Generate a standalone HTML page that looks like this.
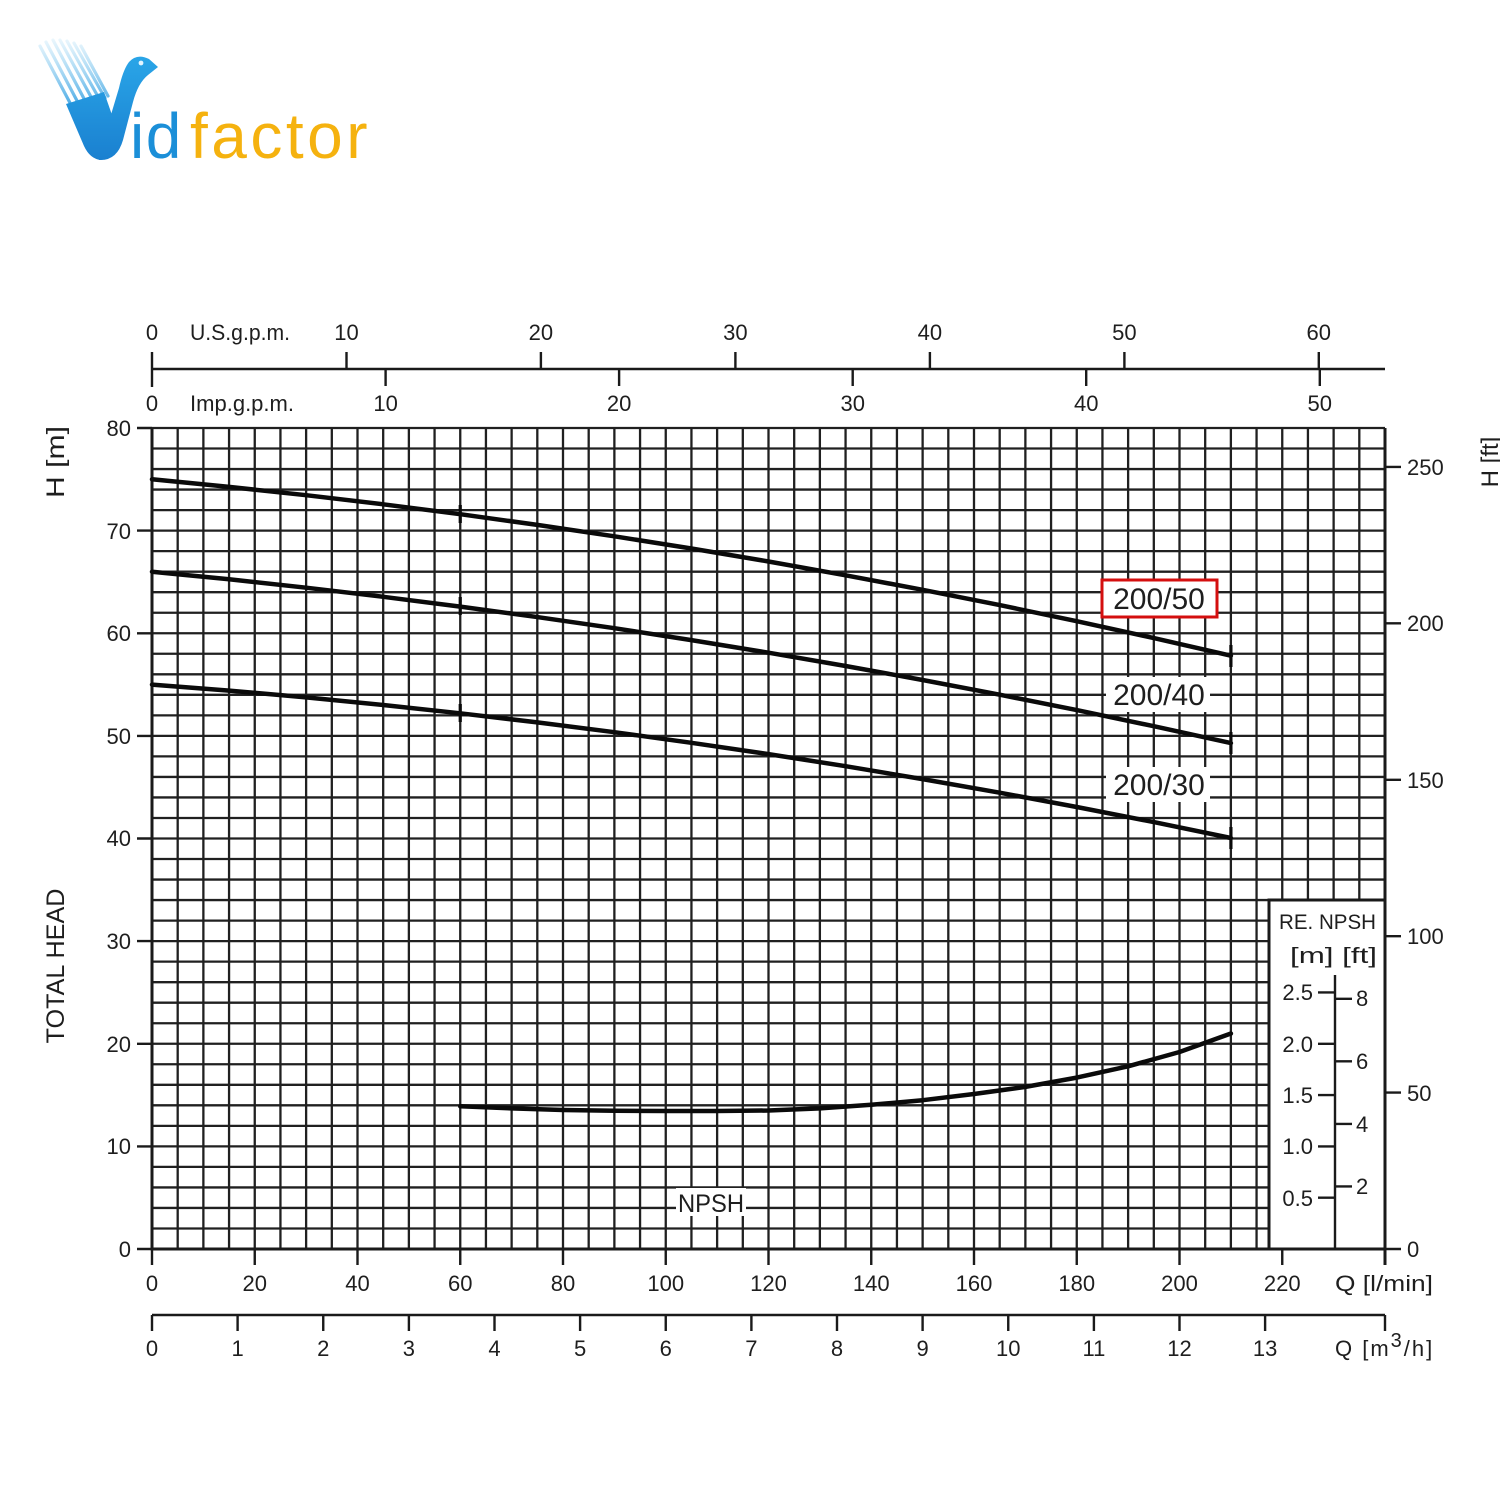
<!DOCTYPE html>
<html><head><meta charset="utf-8"><style>
html,body{margin:0;padding:0;background:#fff;}
svg{display:block;}
text{font-family:"Liberation Sans",sans-serif;fill:#1e1e1e;}
</style></head><body>
<svg width="1500" height="1500" viewBox="0 0 1500 1500" xmlns="http://www.w3.org/2000/svg">
<defs>
<linearGradient id="streak" x1="0" y1="38" x2="0" y2="115" gradientUnits="userSpaceOnUse">
<stop offset="0" stop-color="#7cc8f0" stop-opacity="0.15"/>
<stop offset="1" stop-color="#2b9be0" stop-opacity="1"/>
</linearGradient>
<linearGradient id="vblue" x1="0" y1="55" x2="0" y2="160" gradientUnits="userSpaceOnUse">
<stop offset="0" stop-color="#2aa6e8"/>
<stop offset="1" stop-color="#1a80d0"/>
</linearGradient>
</defs>
<rect width="1500" height="1500" fill="#fff"/>

<!-- Logo -->
<g stroke="url(#streak)" stroke-width="3.2" stroke-linecap="round">
<line x1="40" y1="46" x2="78" y2="118"/>
<line x1="46" y1="42" x2="84" y2="114"/>
<line x1="53" y1="40" x2="90" y2="110"/>
<line x1="60" y1="40" x2="96" y2="106"/>
<line x1="67" y1="41" x2="101" y2="102"/>
<line x1="74" y1="43" x2="105" y2="98"/>
<line x1="81" y1="46" x2="108" y2="96"/>
</g>
<path d="M66 104 L104 92 L120 138 Q118 158 101 160 Q90 159 84 146 Z" fill="url(#vblue)"/>
<path d="M99 160 Q117 161 123 140 L133 102 Q138 83 148 75 L158 67 L149 59 Q137 53 129 62 Q123 70 119 88 L104 138 Z" fill="url(#vblue)"/>
<circle cx="141" cy="63" r="2.4" fill="#e4f5ff"/>
<text x="130" y="158" font-size="64" letter-spacing="1.5" style="fill:#1b8fd8">id</text>
<text x="190" y="158" font-size="64" letter-spacing="3.5" style="fill:#f5b20f">factor</text>

<!-- Grid -->
<g stroke="#202020" stroke-width="2.3" fill="none">
<path d="M152 428v821
m25.6875-821v821m25.6875-821v821m25.6875-821v821m25.6875-821v821m25.6875-821v821m25.6875-821v821m25.6875-821v821m25.6875-821v821
m25.6875-821v821m25.6875-821v821m25.6875-821v821m25.6875-821v821m25.6875-821v821m25.6875-821v821m25.6875-821v821m25.6875-821v821
m25.6875-821v821m25.6875-821v821m25.6875-821v821m25.6875-821v821m25.6875-821v821m25.6875-821v821m25.6875-821v821m25.6875-821v821
m25.6875-821v821m25.6875-821v821m25.6875-821v821m25.6875-821v821m25.6875-821v821m25.6875-821v821m25.6875-821v821m25.6875-821v821
m25.6875-821v821m25.6875-821v821m25.6875-821v821m25.6875-821v821m25.6875-821v821m25.6875-821v821m25.6875-821v821m25.6875-821v821
m25.6875-821v821m25.6875-821v821m25.6875-821v821m25.6875-821v821m25.6875-821v821m25.6875-821v821m25.6875-821v821m25.6875-821v821"/>
<path d="M152 428h1233
m-1233 20.525h1233m-1233 20.525h1233m-1233 20.525h1233m-1233 20.525h1233m-1233 20.525h1233m-1233 20.525h1233m-1233 20.525h1233m-1233 20.525h1233
m-1233 20.525h1233m-1233 20.525h1233m-1233 20.525h1233m-1233 20.525h1233m-1233 20.525h1233m-1233 20.525h1233m-1233 20.525h1233m-1233 20.525h1233
m-1233 20.525h1233m-1233 20.525h1233m-1233 20.525h1233m-1233 20.525h1233m-1233 20.525h1233m-1233 20.525h1233m-1233 20.525h1233m-1233 20.525h1233
m-1233 20.525h1233m-1233 20.525h1233m-1233 20.525h1233m-1233 20.525h1233m-1233 20.525h1233m-1233 20.525h1233m-1233 20.525h1233m-1233 20.525h1233
m-1233 20.525h1233m-1233 20.525h1233m-1233 20.525h1233m-1233 20.525h1233m-1233 20.525h1233m-1233 20.525h1233m-1233 20.525h1233m-1233 20.525h1233"/>
</g>

<!-- NPSH box -->
<rect x="1269" y="900" width="116" height="349" fill="#fff"/>
<g stroke="#1a1a1a" stroke-width="3" fill="none">
<path d="M1269 1249V900H1385"/>
<path d="M1385 428V1265"/>
<path d="M152 428V1249H1385"/>
</g>

<!-- Axes ticks -->
<g stroke="#1a1a1a" stroke-width="2.4" fill="none">
<path d="M137 428h15M137 530.6h15M137 633.3h15M137 735.9h15M137 838.5h15M137 941.1h15M137 1043.8h15M137 1146.4h15M137 1249h15"/>
<path d="M152 1249v16M254.75 1249v16M357.5 1249v16M460.25 1249v16M563 1249v16M665.75 1249v16M768.5 1249v16M871.25 1249v16M974 1249v16M1076.75 1249v16M1179.5 1249v16M1282.25 1249v16"/>
<path d="M152 1315H1385"/>
<path d="M152 1315v16M237.6 1315v16M323.25 1315v16M408.9 1315v16M494.5 1315v16M580.1 1315v16M665.75 1315v16M751.4 1315v16M837 1315v16M922.6 1315v16M1008.25 1315v16M1093.9 1315v16M1179.5 1315v16M1265.1 1315v16M1385 1315v16"/>
<path d="M152 369H1385"/>
<path d="M152 352v35M346.5 352v17M540.9 352v17M735.4 352v17M929.9 352v17M1124.4 352v17M1318.8 352v17"/>
<path d="M385.6 369v17M619.1 369v17M852.7 369v17M1086.2 369v17M1319.8 369v17"/>
<path d="M1385 1249h16M1385 1092.6h16M1385 936.2h16M1385 779.8h16M1385 623.3h16M1385 466.9h16"/>
<path d="M1335 975V1249"/>
<path d="M1318 1197.7h17M1318 1146.4h17M1318 1095.1h17M1318 1043.8h17M1318 992.4h17"/>
<path d="M1335 1186.4h17M1335 1123.9h17M1335 1061.3h17M1335 998.8h17"/>
</g>

<!-- Labels on curves backgrounds -->
<rect x="1106" y="677" width="104" height="35" fill="#fff"/>
<rect x="1106" y="767" width="104" height="35" fill="#fff"/>
<rect x="676" y="1188" width="70" height="28" fill="#fff"/>

<!-- Curves -->
<g stroke="#0a0a0a" stroke-width="4.5" fill="none" stroke-linejoin="round" stroke-linecap="round">
<polyline points="152,479.3 229.1,486.9 306.1,495.2 383.2,504.3 460.25,514.2 537.3,524.9 614.4,536.3 691.4,548.5 768.5,561.5 845.6,575.3 922.6,589.8 999.7,605.1 1076.75,621.2 1153.8,638.1 1230.9,655.7"/>
<polyline points="152,571.7 229.1,579.3 306.1,587.7 383.2,596.8 460.25,606.6 537.3,617.05 614.4,628.2 691.4,640.1 768.5,652.7 845.6,666 922.6,680 999.7,694.7 1076.75,710.1 1153.8,726.2 1230.9,743.1"/>
<polyline points="152,684.6 229.1,690.6 306.1,697.4 383.2,705 460.25,713.3 537.3,722.4 614.4,732.2 691.4,742.8 768.5,754.1 845.6,766.2 922.6,779.1 999.7,792.7 1076.75,807 1153.8,822.1 1230.9,838"/>
<polyline points="460.25,1106.3 511.6,1108.4 563,1110 614.4,1110.8 665.75,1111 717.1,1111 768.5,1110.5 819.9,1108.4 871.25,1104.8 922.6,1100.2 974,1094 1025.4,1086.9 1076.75,1077.6 1128.1,1066.3 1179.5,1052 1230.9,1033.5"/>
</g>
<g stroke="#0a0a0a" stroke-width="3.2" fill="none">
<path d="M460.25 505v18M460.25 597v18M460.25 704v18"/>
<path d="M1230.9 645v22M1230.9 732v22M1230.9 827v22"/>
</g>

<!-- Curve labels -->
<rect x="1102" y="580" width="115" height="37" fill="#fff" stroke="#d40f0f" stroke-width="3"/>
<text x="1159" y="609" font-size="30" text-anchor="middle">200/50</text>
<text x="1159" y="705" font-size="30" text-anchor="middle">200/40</text>
<text x="1159" y="795" font-size="30" text-anchor="middle">200/30</text>
<text x="711" y="1212" font-size="25" text-anchor="middle" textLength="66" lengthAdjust="spacingAndGlyphs">NPSH</text>

<!-- Left axis labels -->
<g font-size="22" text-anchor="end">
<text x="131" y="436">80</text>
<text x="131" y="539">70</text>
<text x="131" y="641">60</text>
<text x="131" y="744">50</text>
<text x="131" y="846">40</text>
<text x="131" y="949">30</text>
<text x="131" y="1052">20</text>
<text x="131" y="1154">10</text>
<text x="131" y="1257">0</text>
</g>
<g font-size="22" text-anchor="middle">
<text x="152" y="1291">0</text>
<text x="254.75" y="1291">20</text>
<text x="357.5" y="1291">40</text>
<text x="460.25" y="1291">60</text>
<text x="563" y="1291">80</text>
<text x="665.75" y="1291">100</text>
<text x="768.5" y="1291">120</text>
<text x="871.25" y="1291">140</text>
<text x="974" y="1291">160</text>
<text x="1076.75" y="1291">180</text>
<text x="1179.5" y="1291">200</text>
<text x="1282.25" y="1291">220</text>
</g>
<text x="1335" y="1291" font-size="22" textLength="98" lengthAdjust="spacingAndGlyphs">Q [l/min]</text>
<g font-size="22" text-anchor="middle">
<text x="152" y="1356">0</text>
<text x="237.6" y="1356">1</text>
<text x="323.25" y="1356">2</text>
<text x="408.9" y="1356">3</text>
<text x="494.5" y="1356">4</text>
<text x="580.1" y="1356">5</text>
<text x="665.75" y="1356">6</text>
<text x="751.4" y="1356">7</text>
<text x="837" y="1356">8</text>
<text x="922.6" y="1356">9</text>
<text x="1008.25" y="1356">10</text>
<text x="1093.9" y="1356">11</text>
<text x="1179.5" y="1356">12</text>
<text x="1265.1" y="1356">13</text>
</g>
<text x="1335" y="1356" font-size="22" letter-spacing="2">Q [m<tspan dy="-9" font-size="20">3</tspan><tspan dy="9">/h]</tspan></text>
<g font-size="22" text-anchor="middle">
<text x="152" y="340">0</text>
<text x="346.5" y="340">10</text>
<text x="540.9" y="340">20</text>
<text x="735.4" y="340">30</text>
<text x="929.9" y="340">40</text>
<text x="1124.4" y="340">50</text>
<text x="1318.8" y="340">60</text>
<text x="152" y="411">0</text>
<text x="385.6" y="411">10</text>
<text x="619.1" y="411">20</text>
<text x="852.7" y="411">30</text>
<text x="1086.2" y="411">40</text>
<text x="1319.8" y="411">50</text>
</g>
<text x="190" y="340" font-size="22" textLength="100" lengthAdjust="spacingAndGlyphs">U.S.g.p.m.</text>
<text x="190" y="411" font-size="22" textLength="104" lengthAdjust="spacingAndGlyphs">Imp.g.p.m.</text>
<g font-size="22">
<text x="1407" y="1257">0</text>
<text x="1407" y="1101">50</text>
<text x="1407" y="944">100</text>
<text x="1407" y="788">150</text>
<text x="1407" y="631">200</text>
<text x="1407" y="475">250</text>
</g>
<text x="1376" y="929" font-size="21" text-anchor="end" textLength="97" lengthAdjust="spacingAndGlyphs">RE. NPSH</text>
<text x="1377" y="963" font-size="22" text-anchor="end" textLength="87" lengthAdjust="spacingAndGlyphs">[m] [ft]</text>
<g font-size="22" text-anchor="end">
<text x="1313" y="1000">2.5</text>
<text x="1313" y="1052">2.0</text>
<text x="1313" y="1103">1.5</text>
<text x="1313" y="1154">1.0</text>
<text x="1313" y="1206">0.5</text>
</g>
<g font-size="22">
<text x="1356" y="1006">8</text>
<text x="1356" y="1069">6</text>
<text x="1356" y="1132">4</text>
<text x="1356" y="1194">2</text>
</g>
<text transform="translate(64,462) rotate(-90)" font-size="25" text-anchor="middle" textLength="72" lengthAdjust="spacingAndGlyphs">H [m]</text>
<text transform="translate(64,966) rotate(-90)" font-size="25" text-anchor="middle" textLength="155" lengthAdjust="spacingAndGlyphs">TOTAL HEAD</text>
<text transform="translate(1498,462) rotate(-90)" font-size="24" text-anchor="middle">H [ft]</text>
</svg>
</body></html>
